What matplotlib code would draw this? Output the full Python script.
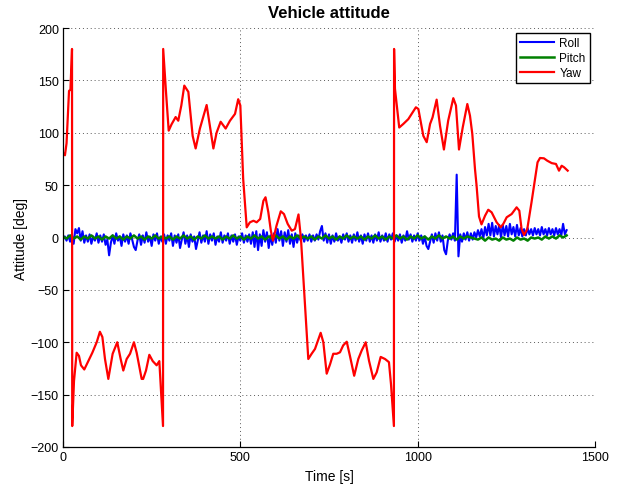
import numpy as np
import matplotlib
matplotlib.use("Agg")
import matplotlib.pyplot as plt

plt.rcParams['font.family'] = ['Liberation Sans', 'DejaVu Sans']

# ---------------- data ----------------
yaw_t = [0, 5.5, 10, 14, 17, 21, 25.4,
         26, 31, 38.5, 45, 50.7, 60, 71.5, 82.7, 95, 104, 111, 118.4, 127.8, 140, 153,
         162.6, 170, 179.5, 189, 200, 207.7, 221.8, 226, 234, 243.4, 253, 264, 271.6, 275.4, 282,
         282.5, 290.4, 298, 306, 317.6, 325, 333.6, 342, 353.4, 365.6, 374, 386, 405, 424, 433,
         444.5, 458.6, 470.8, 485, 494, 500,
         508, 518, 527, 537, 546, 556, 565, 571, 579, 586, 592, 602, 614, 623, 633.5, 645, 654,
         664, 671,
         691.6, 701, 710.5, 726.5, 734, 743.5, 753, 762, 771.6, 781, 790, 800, 809, 821, 832.6,
         842, 853.5, 862.8, 875, 884.5, 895.7, 908, 919, 924.8, 933,
         933.5, 936, 948, 959.5, 973.6, 983, 995, 1002, 1016, 1025.5, 1035, 1042, 1053.5, 1063,
         1074, 1086, 1100.5, 1108, 1116.5, 1127, 1140, 1147.5, 1154, 1161.6, 1166, 1173, 1180,
         1190, 1199, 1208.6, 1222.7, 1234, 1241.5, 1251, 1265, 1279, 1286.6, 1293, 1300, 1309,
         1321, 1330.8, 1338, 1345, 1356, 1365.5, 1378, 1390, 1398.5, 1406, 1413, 1423]
yaw = [81, 78.5, 90, 118, 140, 141, 180,
       -180, -137, -110, -113, -122, -126, -118, -110, -100, -90, -95, -116, -135, -111, -100,
       -116, -127, -116, -111, -100, -110, -135, -135, -127, -112, -118, -122, -118, -141, -180,
       180, 139, 102, 108, 115, 111.5, 126, 145, 139, 97, 85, 104, 126.5, 85, 100,
       110.5, 104, 111.5, 118, 132, 126,
       56, 9.7, 14.5, 16, 14.5, 17.7, 35, 38.4, 24, 6.5, -3, 11.3, 25, 22.4, 13, 6.5, 8,
       22, -1.4,
       -116, -111, -106.4, -91, -100, -130, -121, -111, -111, -109.6, -103, -99.5, -113, -132, -116,
       -108, -100, -117.6, -135, -128.7, -114, -116, -119, -140, -180,
       180, 142, 105, 108.4, 113, 118, 124.3, 122.7, 97, 91, 108.4, 114.7, 131.6, 106.7,
       84, 111.5, 133, 126, 84, 105, 127.4, 116.3, 99, 65.4, 50, 20, 12.5,
       20.8, 26.5, 24, 14.5, 9.7, 13, 19.3, 22.4, 28.8, 25.6, 8, 2.4, 8,
       33.6, 55.8, 71.8, 75.9, 75.6, 73.3, 71, 70.2, 63.8, 68.5, 67, 63.8]

roll_t = np.arange(0, 1421, 5)
roll = [
    -2, 1, -3, 2, -4, 3, -6, 8, 4, 9, -3, 6, -5, 2, -4, 3, -6, 1, -3, 4,
    -5, 2, -4, 3, -7, -2, -17, -5, 2, -6, 4, -3, 1, -8, 3, -4, 2, -6, 4, -2,
    -9, -12, -3, 3, -7, 2, -5, 5, -4, 1, -8, 3, -3, 4, -6, 1, -4, 3, -6, 2,
    -3, 4, -8, 2, -5, 3, -10, -2, 5, -6, 2, -9, 3, -4, 1, -11, -3, 5, -5, 2,
    -4, 6, -6, 3, -3, 4, -7, 1, -4, 5, -5, 2, -3, 4, -6, 2, -4, 3, -7, 1,
    -3, 4, -5, 2, -4, 3, -6, 5, -9, 6, -12, 3, -8, 7, -4, 5, -10, 2, -7, 4,
    -5, 8, -3, 6, -8, 5, -4, 7, -6, 3, -9, 4, -5, 2, -3, 3, -4, 2, -3, 3,
    -4, 2, -3, 3, -2, 6, 11, -3, 4, -5, 3, -6, 2, -4, 4, -3, 1, -5, 3, -2,
    4, -4, 2, -5, 3, -3, 5, -4, 2, -6, 3, -3, 4, -4, 2, -5, 3, -3, 5, -4,
    2, -3, 4, -4, 3, -2, 4, -4, 2, -3, 3, -5, 2, -3, 6, -2, 3, -4, 2, -3,
    4, -3, 2, -6, 1, -8, -11, -4, 3, -5, 4, -3, 5, -4, 2, -12, -16, -3, 3, -2,
    4, -3, 60, -18, 3, -4, 4, -2, 5, -3, 4, -2, 5, 0, 7, 1, 8, -1, 10, 2,
    13, 2, 14, 1, 11, 3, 12, 0, 12, 2, 11, 1, 13, 3, 10, 1, 12, 2, 9, 1,
    8, 2, 9, 3, 8, 2, 9, 3, 8, 2, 10, 3, 8, 2, 9, 3, 8, 2, 9, 3,
    8, 2, 13, 3, 7]

pitch_t = np.arange(0, 1421, 10)
pitch = [
    1, -1, 2, -1, 1, -2, 1, -1, 2, -1,
    1, -2, 1, -1, 2, -1, 1, -2, 1, -1,
    2, -1, 1, -2, 1, -1, 2, -1, 1, -1,
    1, -2, 1, -1, 2, -1, 1, -2, 1, -1,
    2, -1, 1, -1, 1, -2, 1, -1, 2, -1,
    1, -2, 1, -1, 2, -1, 1, -2, 1, -1,
    2, -1, 1, -2, 1, -1, 2, -1, 1, -1,
    1, -2, 1, -1, 2, -1, 1, -2, 1, -1,
    2, -1, 1, -1, 1, -2, 1, -1, 2, -1,
    1, -2, 1, -1, 2, -1, 1, -2, 1, -1,
    2, -1, 1, -2, 1, -1, 2, -1, 1, -1,
    1, -2, 1, -1, 1, 0, -1, -2, 0, -3,
    0, -2, -1, -3, 0, -2, -1, -3, 0, -2,
    -1, -3, 0, -1, 0, -2, 1, -1, 1, -1,
    2, 0, 2]

xticks = [0, 500, 1000, 1500]
yticks = [-200, -150, -100, -50, 0, 50, 100, 150, 200]

# ---------------- figure ----------------
fig = plt.figure(figsize=(6.29, 4.85), dpi=100)
ax = fig.add_axes([63/629, 37/485, 532/629, 419/485])

ax.plot(roll_t, roll, color=(0, 0, 1), lw=1.5, label='Roll')
ax.plot(pitch_t, pitch, color=(0, 0.5, 0), lw=1.8, label='Pitch')
ax.plot(yaw_t, yaw, color=(1, 0, 0), lw=1.6, label='Yaw')

ax.set_xlim(0, 1500)
ax.set_ylim(-200, 200)
ax.set_xticks(xticks)
ax.set_yticks(yticks)
ax.tick_params(direction='in', length=4.5, width=0.8, labelsize=9, pad=3, colors='black')
ax.grid(True, color='0.35', linestyle=(0, (1, 3)), lw=0.7)
for s in ['top', 'right']:
    ax.spines[s].set_visible(False)
for s in ['left', 'bottom']:
    ax.spines[s].set_linewidth(0.9)

ax.set_title('Vehicle attitude', fontsize=12, fontweight='bold', pad=8)
ax.set_xlabel('Time [s]', fontsize=10, labelpad=4)
ax.set_ylabel('Attitude [deg]', fontsize=10, labelpad=2)

leg = ax.legend(loc='upper right', fontsize=8.5, frameon=True, fancybox=False,
                edgecolor='black', framealpha=1, borderaxespad=0.45,
                handlelength=2.9, handletextpad=0.45, labelspacing=0.25,
                borderpad=0.35)
leg.get_frame().set_linewidth(1.0)

fig.savefig('out.png', dpi=100)
